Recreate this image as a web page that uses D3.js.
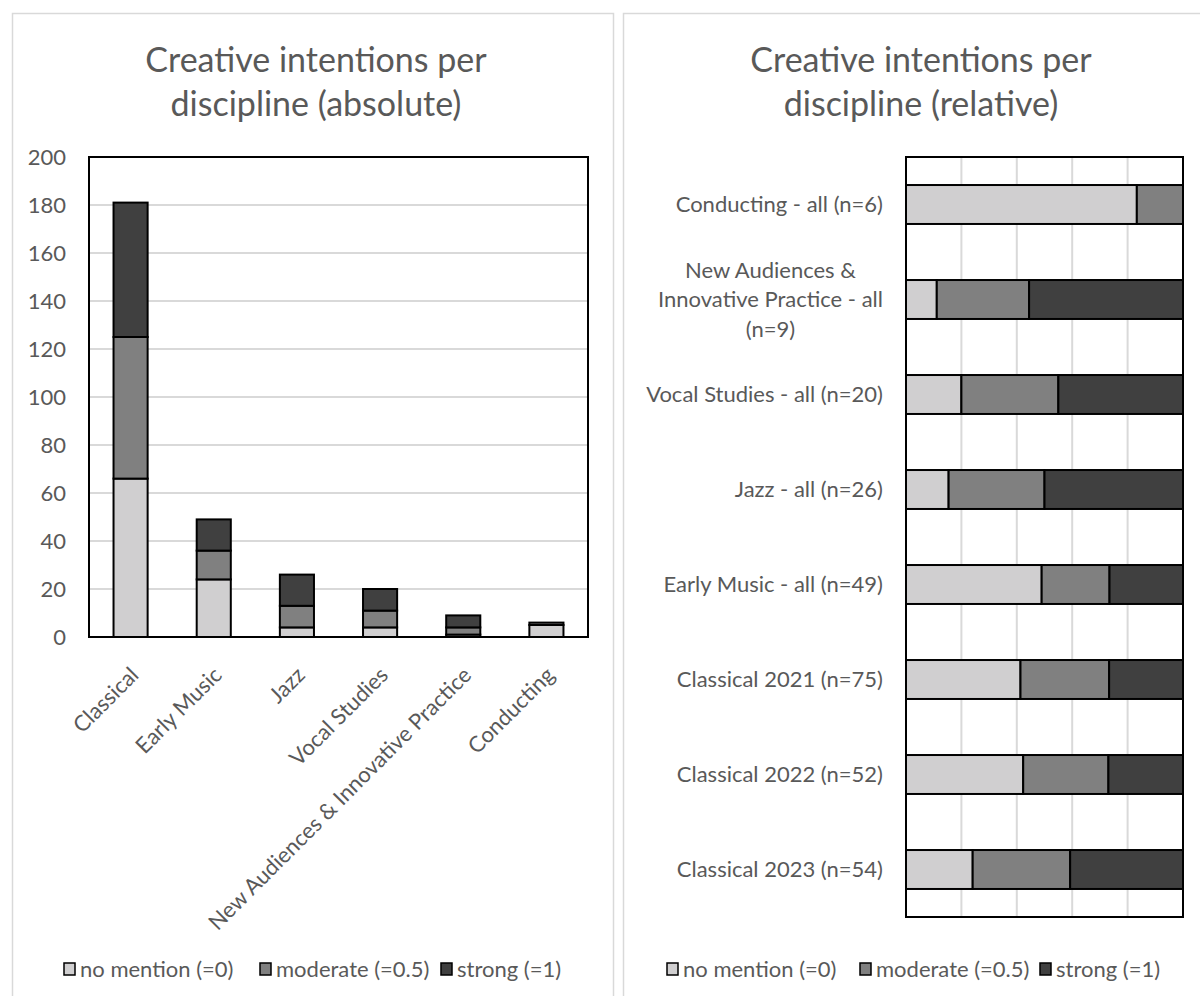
<!DOCTYPE html>
<html>
<head>
<meta charset="utf-8">
<script src="https://cdn.jsdelivr.net/npm/d3@7"></script>
<style>
  html, body { margin: 0; padding: 0; background: #fff; }
  svg { display: block; font-family: Lato, "Open Sans", sans-serif; }
</style>
</head>
<body>
<svg id="chart" width="1200" height="996"></svg>
<script>
// ---- Absolute counts per discipline ----
const disciplines = ["Classical", "Early Music", "Jazz", "Vocal Studies",
  "New Audiences & Innovative Practice", "Conducting"];
const absNoMention = [66, 24, 4, 4, 1, 5];
const absModerate  = [59, 12, 9, 7, 3, 1];
const absStrong    = [56, 13, 13, 9, 5, 0];
const absTicks = [0, 20, 40, 60, 80, 100, 120, 140, 160, 180, 200];

// ---- Counts behind the relative (100%) chart, top row first ----
const groups = ["Conducting - all (n=6)",
  "New Audiences & Innovative Practice - all (n=9)",
  "Vocal Studies - all (n=20)", "Jazz - all (n=26)", "Early Music - all (n=49)",
  "Classical 2021 (n=75)", "Classical 2022 (n=52)", "Classical 2023 (n=54)"];
const relNoMention = [5, 1, 4, 4, 24, 31, 22, 13];
const relModerate  = [1, 3, 7, 9, 12, 24, 16, 19];
const relStrong    = [0, 5, 9, 13, 13, 20, 14, 22];
const relTicks = [0, 0.2, 0.4, 0.6, 0.8, 1];

const seriesNames = ["no mention (=0)", "moderate (=0.5)", "strong (=1)"];
const seriesKeys = ["none", "moderate", "strong"];
const colors = ["#d0cfd0", "#808080", "#404040"];
const textColor = "#595959";
const gridColor = "#d9d9d9";
const labelSize = 22;

const svg = d3.select("#chart");

// Panel frames
svg.append("rect").attr("x", 12.5).attr("y", 13.5).attr("width", 601).attr("height", 1000)
  .attr("fill", "none").attr("stroke", gridColor).attr("stroke-width", 1.5);
svg.append("rect").attr("x", 623.5).attr("y", 13.5).attr("width", 600).attr("height", 1000)
  .attr("fill", "none").attr("stroke", gridColor).attr("stroke-width", 1.5);

function title(cx, lines) {
  const t = svg.append("text").attr("text-anchor", "middle").attr("fill", textColor)
    .attr("font-size", 34);
  lines.forEach((l, i) => t.append("tspan").attr("x", cx).attr("y", 72 + i * 44).text(l));
}
title(316, ["Creative intentions per", "discipline (absolute)"]);
title(921, ["Creative intentions per", "discipline (relative)"]);

function legend(x0, offsets) {
  const g = svg.append("g");
  seriesNames.forEach((name, i) => {
    const x = x0 + offsets[i];
    g.append("rect").attr("x", x).attr("y", 963).attr("width", 11).attr("height", 12)
      .attr("fill", colors[i]).attr("stroke", "#000").attr("stroke-width", 1.5);
    g.append("text").attr("x", x + 16).attr("y", 977).attr("fill", textColor)
      .attr("font-size", labelSize).text(name);
  });
}

// ================= Left: stacked columns =================
{
  const m = { left: 89, right: 588, top: 157, bottom: 637 };
  const x = d3.scaleBand().domain(disciplines).range([m.left, m.right]).paddingInner(0.59).paddingOuter(0.295);
  const y = d3.scaleLinear().domain([0, 200]).range([m.bottom, m.top]);

  const rows = disciplines.map((d, i) => ({ key: d, none: absNoMention[i], moderate: absModerate[i], strong: absStrong[i] }));
  const stacked = d3.stack().keys(seriesKeys)(rows);

  // gridlines
  svg.append("g").selectAll("line").data(absTicks.filter(t => t > 0 && t < 200)).join("line")
    .attr("x1", m.left).attr("x2", m.right).attr("y1", d => y(d)).attr("y2", d => y(d))
    .attr("stroke", gridColor).attr("stroke-width", 2);

  // y axis labels
  const ya = svg.append("g").attr("transform", `translate(${m.left},0)`)
    .call(d3.axisLeft(y).tickValues(absTicks).tickSize(0).tickPadding(23));
  ya.select(".domain").remove();
  ya.selectAll("text").attr("fill", textColor).attr("font-size", labelSize).attr("font-family", "Lato");

  stacked.forEach((s, si) => {
    svg.append("g").selectAll("rect").data(s).join("rect")
      .attr("x", d => x(d.data.key)).attr("width", x.bandwidth())
      .attr("y", d => y(d[1])).attr("height", d => y(d[0]) - y(d[1]))
      .attr("fill", colors[si]).attr("stroke", "#000").attr("stroke-width", 2);
  });

  // frame
  svg.append("rect").attr("x", m.left).attr("y", m.top).attr("width", m.right - m.left)
    .attr("height", m.bottom - m.top).attr("fill", "none").attr("stroke", "#000").attr("stroke-width", 2);

  // rotated category labels
  svg.append("g").selectAll("text").data(disciplines).join("text")
    .attr("transform", d => `translate(${x(d) + x.bandwidth() / 2 + 4},${m.bottom + 34}) rotate(-45)`)
    .attr("text-anchor", "end").attr("dy", "0.35em")
    .attr("fill", textColor).attr("font-size", labelSize).text(d => d);

  legend(64, [0, 196, 377]);
}

// ================= Right: 100% stacked bars =================
{
  const m = { left: 906, right: 1183, top: 157, bottom: 917 };
  const y = d3.scaleBand().domain(groups).range([m.top, m.bottom]).paddingInner(0.59).paddingOuter(0.295);
  const x = d3.scaleLinear().domain([0, 1]).range([m.left, m.right]);

  const rows = groups.map((g, i) => {
    const n = relNoMention[i] + relModerate[i] + relStrong[i];
    return { key: g, none: relNoMention[i] / n, moderate: relModerate[i] / n, strong: relStrong[i] / n };
  });
  const stacked = d3.stack().keys(seriesKeys)(rows);

  svg.append("g").selectAll("line").data(relTicks.filter(t => t > 0 && t < 1)).join("line")
    .attr("x1", d => x(d)).attr("x2", d => x(d)).attr("y1", m.top).attr("y2", m.bottom)
    .attr("stroke", gridColor).attr("stroke-width", 2);

  stacked.forEach((s, si) => {
    svg.append("g").selectAll("rect").data(s.filter(d => d[1] - d[0] > 0)).join("rect")
      .attr("y", d => y(d.data.key)).attr("height", y.bandwidth())
      .attr("x", d => x(d[0])).attr("width", d => x(d[1]) - x(d[0]))
      .attr("fill", colors[si]).attr("stroke", "#000").attr("stroke-width", 2);
  });

  svg.append("rect").attr("x", m.left).attr("y", m.top).attr("width", m.right - m.left)
    .attr("height", m.bottom - m.top).attr("fill", "none").attr("stroke", "#000").attr("stroke-width", 2);

  // category labels (long one wrapped over three centred lines)
  const labelRight = m.left - 23;
  const wrapped = { "New Audiences & Innovative Practice - all (n=9)": ["New Audiences &", "Innovative Practice - all", "(n=9)"] };
  groups.forEach(g => {
    const cy = y(g) + y.bandwidth() / 2;
    const t = svg.append("text").attr("fill", textColor).attr("font-size", labelSize);
    if (wrapped[g]) {
      const lines = wrapped[g];
      t.attr("text-anchor", "middle");
      const spans = lines.map((l, i) => t.append("tspan")
        .attr("y", cy + (i - (lines.length - 1) / 2) * 29.5).attr("dy", "0.35em").text(l));
      const widest = d3.max(spans, s => s.node().getComputedTextLength());
      spans.forEach(s => s.attr("x", labelRight - widest / 2));
    } else {
      t.attr("text-anchor", "end").attr("x", labelRight).attr("y", cy).attr("dy", "0.35em").text(g);
    }
  });

  legend(667, [0, 193, 373]);
}
</script>
</body>
</html>
